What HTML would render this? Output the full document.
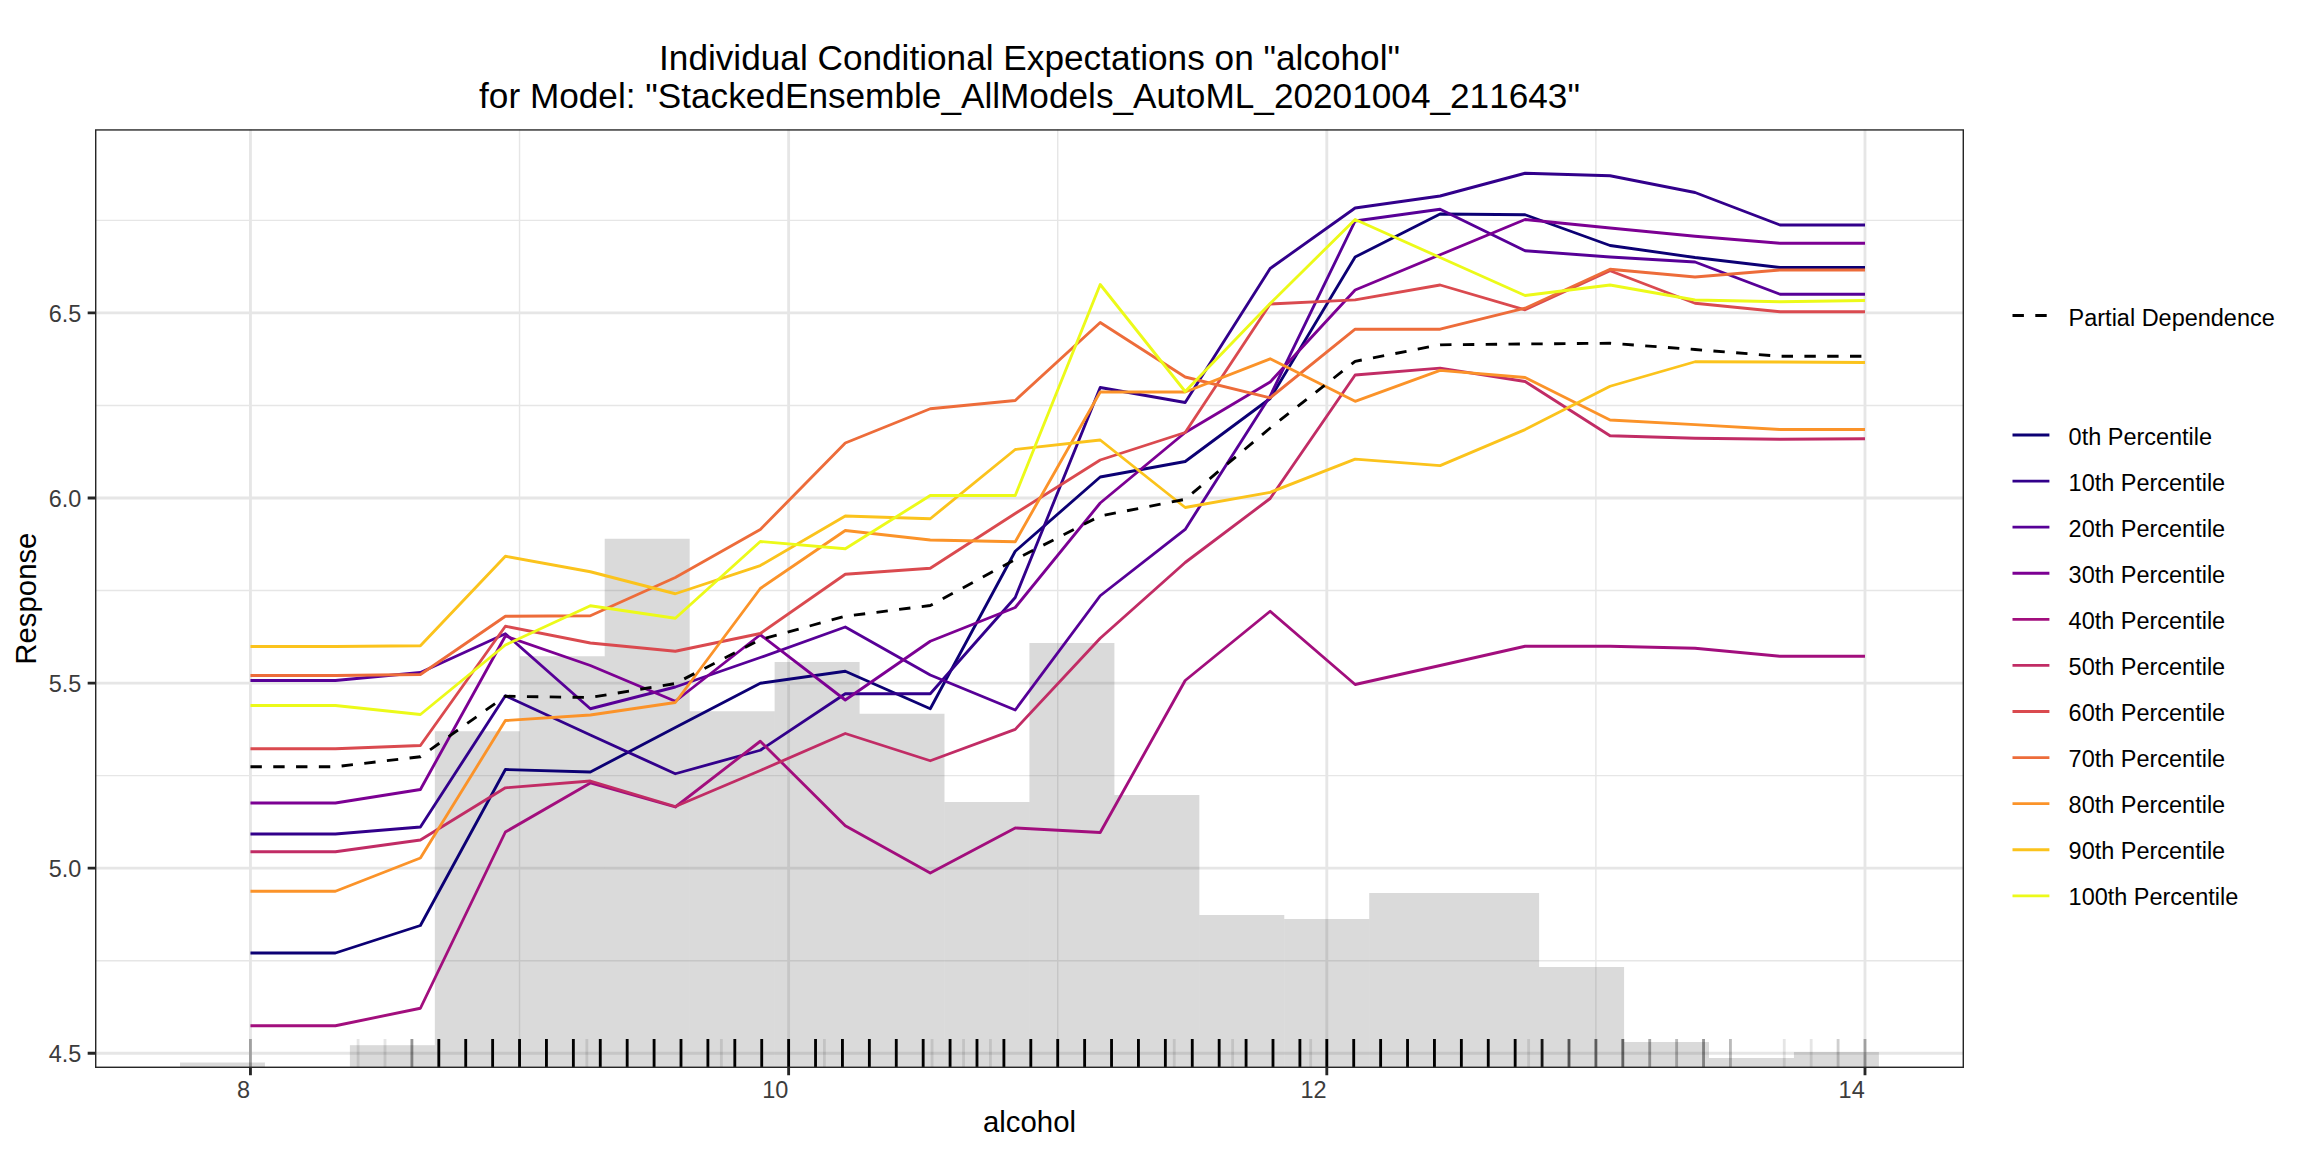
<!DOCTYPE html>
<html lang="en"><head><meta charset="utf-8"><title>Individual Conditional Expectations on "alcohol"</title>
<style>html,body{margin:0;padding:0;background:#fff}svg{display:block}text{font-family:"Liberation Sans",Arial,Helvetica,sans-serif;font-kerning:none}</style></head><body>
<svg width="2304" height="1152" viewBox="0 0 2304 1152">
<rect width="2304" height="1152" fill="#fff"/>
<defs><clipPath id="pc"><rect x="95.0" y="129.2" width="1869.0" height="938.8"/></clipPath></defs>
<g clip-path="url(#pc)">
<path d="M95.0 960.71H1964.0M95.0 775.62H1964.0M95.0 590.54H1964.0M95.0 405.45H1964.0M95.0 220.37H1964.0M519.54 129.2V1068.0M1057.72 129.2V1068.0M1595.90 129.2V1068.0" stroke="#E6E6E6" stroke-width="1.425" fill="none"/>
<path d="M95.0 1053.25H1964.0M95.0 868.16H1964.0M95.0 683.08H1964.0M95.0 498.00H1964.0M95.0 312.91H1964.0M250.45 129.2V1068.0M788.63 129.2V1068.0M1326.81 129.2V1068.0M1864.99 129.2V1068.0" stroke="#E6E6E6" stroke-width="2.85" fill="none"/>
<g fill="#474747" fill-opacity="0.2">
<rect x="180.00" y="1062.5" width="84.945" height="10.50"/>
<rect x="349.89" y="1045.2" width="84.945" height="27.80"/>
<rect x="434.83" y="731.25" width="84.945" height="341.75"/>
<rect x="519.78" y="656.25" width="84.945" height="416.75"/>
<rect x="604.72" y="538.75" width="84.945" height="534.25"/>
<rect x="689.67" y="711.25" width="84.945" height="361.75"/>
<rect x="774.62" y="662" width="84.945" height="411.00"/>
<rect x="859.56" y="713.75" width="84.945" height="359.25"/>
<rect x="944.50" y="802" width="84.945" height="271.00"/>
<rect x="1029.45" y="643" width="84.945" height="430.00"/>
<rect x="1114.39" y="795" width="84.945" height="278.00"/>
<rect x="1199.34" y="915" width="84.945" height="158.00"/>
<rect x="1284.28" y="919" width="84.945" height="154.00"/>
<rect x="1369.23" y="893" width="84.945" height="180.00"/>
<rect x="1454.17" y="893" width="84.945" height="180.00"/>
<rect x="1539.12" y="967" width="84.945" height="106.00"/>
<rect x="1624.06" y="1042" width="84.945" height="31.00"/>
<rect x="1709.01" y="1058" width="84.945" height="15.00"/>
<rect x="1793.95" y="1052" width="84.945" height="21.00"/>
</g>
<g stroke="#000" stroke-width="2.85">
<path d="M250.45 1039.00V1068.0" stroke-opacity="0.3"/>
<path d="M358.09 1039.00V1068.0" stroke-opacity="0.1"/>
<path d="M385.00 1039.00V1068.0" stroke-opacity="0.1"/>
<path d="M411.90 1039.00V1068.0" stroke-opacity="0.41"/>
<path d="M438.81 1039.00V1068.0" stroke-opacity="1.0"/>
<path d="M465.72 1039.00V1068.0" stroke-opacity="1.0"/>
<path d="M492.63 1039.00V1068.0" stroke-opacity="1.0"/>
<path d="M519.54 1039.00V1068.0" stroke-opacity="1.0"/>
<path d="M546.45 1039.00V1068.0" stroke-opacity="1.0"/>
<path d="M573.36 1039.00V1068.0" stroke-opacity="1.0"/>
<path d="M586.81 1039.00V1068.0" stroke-opacity="0.1"/>
<path d="M600.27 1039.00V1068.0" stroke-opacity="1.0"/>
<path d="M627.18 1039.00V1068.0" stroke-opacity="1.0"/>
<path d="M654.09 1039.00V1068.0" stroke-opacity="1.0"/>
<path d="M680.99 1039.00V1068.0" stroke-opacity="1.0"/>
<path d="M707.90 1039.00V1068.0" stroke-opacity="1.0"/>
<path d="M721.36 1039.00V1068.0" stroke-opacity="0.1"/>
<path d="M734.81 1039.00V1068.0" stroke-opacity="1.0"/>
<path d="M761.72 1039.00V1068.0" stroke-opacity="1.0"/>
<path d="M788.63 1039.00V1068.0" stroke-opacity="1.0"/>
<path d="M815.54 1039.00V1068.0" stroke-opacity="1.0"/>
<path d="M824.42 1039.00V1068.0" stroke-opacity="0.1"/>
<path d="M842.45 1039.00V1068.0" stroke-opacity="1.0"/>
<path d="M869.36 1039.00V1068.0" stroke-opacity="1.0"/>
<path d="M896.27 1039.00V1068.0" stroke-opacity="1.0"/>
<path d="M923.17 1039.00V1068.0" stroke-opacity="1.0"/>
<path d="M932.05 1039.00V1068.0" stroke-opacity="0.1"/>
<path d="M950.08 1039.00V1068.0" stroke-opacity="1.0"/>
<path d="M963.54 1039.00V1068.0" stroke-opacity="0.1"/>
<path d="M976.99 1039.00V1068.0" stroke-opacity="1.0"/>
<path d="M990.45 1039.00V1068.0" stroke-opacity="0.1"/>
<path d="M1003.90 1039.00V1068.0" stroke-opacity="1.0"/>
<path d="M1030.81 1039.00V1068.0" stroke-opacity="1.0"/>
<path d="M1057.72 1039.00V1068.0" stroke-opacity="1.0"/>
<path d="M1084.63 1039.00V1068.0" stroke-opacity="1.0"/>
<path d="M1111.54 1039.00V1068.0" stroke-opacity="1.0"/>
<path d="M1138.45 1039.00V1068.0" stroke-opacity="1.0"/>
<path d="M1165.36 1039.00V1068.0" stroke-opacity="1.0"/>
<path d="M1174.24 1039.00V1068.0" stroke-opacity="0.1"/>
<path d="M1192.26 1039.00V1068.0" stroke-opacity="1.0"/>
<path d="M1219.17 1039.00V1068.0" stroke-opacity="1.0"/>
<path d="M1232.63 1039.00V1068.0" stroke-opacity="0.1"/>
<path d="M1246.08 1039.00V1068.0" stroke-opacity="1.0"/>
<path d="M1272.99 1039.00V1068.0" stroke-opacity="1.0"/>
<path d="M1299.90 1039.00V1068.0" stroke-opacity="1.0"/>
<path d="M1310.66 1039.00V1068.0" stroke-opacity="0.1"/>
<path d="M1326.81 1039.00V1068.0" stroke-opacity="1.0"/>
<path d="M1353.72 1039.00V1068.0" stroke-opacity="1.0"/>
<path d="M1380.63 1039.00V1068.0" stroke-opacity="1.0"/>
<path d="M1407.54 1039.00V1068.0" stroke-opacity="1.0"/>
<path d="M1434.45 1039.00V1068.0" stroke-opacity="1.0"/>
<path d="M1461.36 1039.00V1068.0" stroke-opacity="1.0"/>
<path d="M1488.26 1039.00V1068.0" stroke-opacity="1.0"/>
<path d="M1515.17 1039.00V1068.0" stroke-opacity="1.0"/>
<path d="M1528.63 1039.00V1068.0" stroke-opacity="0.1"/>
<path d="M1542.08 1039.00V1068.0" stroke-opacity="0.9"/>
<path d="M1568.99 1039.00V1068.0" stroke-opacity="0.62"/>
<path d="M1595.90 1039.00V1068.0" stroke-opacity="0.55"/>
<path d="M1622.81 1039.00V1068.0" stroke-opacity="0.55"/>
<path d="M1649.72 1039.00V1068.0" stroke-opacity="0.35"/>
<path d="M1676.63 1039.00V1068.0" stroke-opacity="0.27"/>
<path d="M1703.54 1039.00V1068.0" stroke-opacity="0.41"/>
<path d="M1730.44 1039.00V1068.0" stroke-opacity="0.27"/>
<path d="M1784.26 1039.00V1068.0" stroke-opacity="0.1"/>
<path d="M1811.17 1039.00V1068.0" stroke-opacity="0.1"/>
<path d="M1838.08 1039.00V1068.0" stroke-opacity="0.19"/>
<path d="M1864.99 1039.00V1068.0" stroke-opacity="0.3"/>
</g>
<g fill="none" stroke-width="2.85" stroke-linejoin="round" stroke-linecap="butt">
<polyline points="250.45,953.00 335.43,953.00 420.40,925.50 505.38,769.50 590.35,772.00 675.33,727.50 760.30,683.25 845.28,671.25 930.26,708.75 1015.23,551.25 1100.21,477.00 1185.18,461.50 1270.16,398.50 1355.14,257.00 1440.11,214.00 1525.09,214.75 1610.06,245.50 1695.04,257.50 1780.01,267.50 1864.99,267.50" stroke="#0C0074"/>
<polyline points="250.45,834.00 335.43,834.00 420.40,827.00 505.38,695.75 590.35,735.00 675.33,773.75 760.30,750.25 845.28,693.75 930.26,693.75 1015.23,597.50 1100.21,387.50 1185.18,402.50 1270.16,268.50 1355.14,208.00 1440.11,196.00 1525.09,173.25 1610.06,175.75 1695.04,192.50 1780.01,225.00 1864.99,225.00" stroke="#32008B"/>
<polyline points="250.45,680.50 335.43,680.50 420.40,672.50 505.38,633.75 590.35,708.75 675.33,687.00 760.30,657.50 845.28,627.00 930.26,675.00 1015.23,710.00 1100.21,595.75 1185.18,529.40 1270.16,396.00 1355.14,221.00 1440.11,209.25 1525.09,250.75 1610.06,257.00 1695.04,262.00 1780.01,294.25 1864.99,294.25" stroke="#570097"/>
<polyline points="250.45,803.00 335.43,803.00 420.40,789.50 505.38,636.00 590.35,665.50 675.33,701.25 760.30,634.75 845.28,700.00 930.26,641.25 1015.23,607.50 1100.21,503.00 1185.18,432.50 1270.16,382.00 1355.14,290.00 1440.11,254.75 1525.09,219.50 1610.06,228.00 1695.04,236.25 1780.01,243.25 1864.99,243.25" stroke="#7C0093"/>
<polyline points="250.45,1025.75 335.43,1025.75 420.40,1008.25 505.38,832.00 590.35,783.00 675.33,807.00 760.30,741.25 845.28,825.75 930.26,873.00 1015.23,828.00 1100.21,832.50 1185.18,680.50 1270.16,611.25 1355.14,684.50 1440.11,665.50 1525.09,646.25 1610.06,646.25 1695.04,648.25 1780.01,656.25 1864.99,656.25" stroke="#A20E7D"/>
<polyline points="250.45,851.75 335.43,851.75 420.40,840.00 505.38,787.80 590.35,781.00 675.33,806.50 760.30,770.50 845.28,733.50 930.26,760.75 1015.23,729.40 1100.21,638.25 1185.18,562.50 1270.16,498.50 1355.14,375.00 1440.11,368.20 1525.09,381.50 1610.06,435.75 1695.04,438.25 1780.01,439.25 1864.99,438.75" stroke="#C12C65"/>
<polyline points="250.45,748.75 335.43,748.75 420.40,745.50 505.38,626.25 590.35,643.00 675.33,651.25 760.30,633.50 845.28,574.25 930.26,568.25 1015.23,513.50 1100.21,460.00 1185.18,432.50 1270.16,304.00 1355.14,299.80 1440.11,285.00 1525.09,309.80 1610.06,270.75 1695.04,303.25 1780.01,311.75 1864.99,311.75" stroke="#DA4A4F"/>
<polyline points="250.45,675.50 335.43,675.50 420.40,674.50 505.38,616.25 590.35,615.75 675.33,577.50 760.30,529.50 845.28,443.00 930.26,408.75 1015.23,400.50 1100.21,322.50 1185.18,377.00 1270.16,397.80 1355.14,329.20 1440.11,329.20 1525.09,308.20 1610.06,269.25 1695.04,277.00 1780.01,270.00 1864.99,270.00" stroke="#ED6C3A"/>
<polyline points="250.45,891.25 335.43,891.25 420.40,858.00 505.38,720.50 590.35,715.00 675.33,702.50 760.30,588.50 845.28,530.50 930.26,540.00 1015.23,541.75 1100.21,392.00 1185.18,392.00 1270.16,358.80 1355.14,401.30 1440.11,370.40 1525.09,377.50 1610.06,420.00 1695.04,424.70 1780.01,429.50 1864.99,429.50" stroke="#FB9329"/>
<polyline points="250.45,646.50 335.43,646.50 420.40,645.75 505.38,556.25 590.35,571.75 675.33,593.75 760.30,565.60 845.28,516.00 930.26,518.75 1015.23,449.50 1100.21,440.00 1185.18,507.50 1270.16,492.30 1355.14,459.20 1440.11,465.60 1525.09,429.60 1610.06,386.25 1695.04,361.75 1780.01,362.00 1864.99,362.50" stroke="#FBC31C"/>
<polyline points="250.45,705.50 335.43,705.50 420.40,714.50 505.38,645.00 590.35,605.75 675.33,618.25 760.30,541.50 845.28,548.75 930.26,495.50 1015.23,495.50 1100.21,284.50 1185.18,391.50 1270.16,303.50 1355.14,219.50 1440.11,257.50 1525.09,295.50 1610.06,285.00 1695.04,300.00 1780.01,301.75 1864.99,300.50" stroke="#ECFA19"/>
<polyline points="250.45,766.75 335.43,766.75 420.40,756.75 505.38,696.25 590.35,697.50 675.33,683.50 760.30,639.50 845.28,616.25 930.26,605.50 1015.23,559.50 1100.21,516.00 1185.18,499.30 1270.16,428.00 1355.14,361.30 1440.11,344.80 1525.09,344.00 1610.06,343.25 1695.04,349.50 1780.01,356.25 1864.99,356.25" stroke="#000" stroke-dasharray="11.4 11.4"/>
</g>
</g>
<rect x="95.0" y="129.2" width="1869.0" height="938.8" fill="none" stroke="#262626" stroke-width="2.85" clip-path="url(#pc)"/>
<path d="M87.67 1053.25H95.0M87.67 868.16H95.0M87.67 683.08H95.0M87.67 498.00H95.0M87.67 312.91H95.0M250.45 1068.0V1075.33M788.63 1068.0V1075.33M1326.81 1068.0V1075.33M1864.99 1068.0V1075.33" stroke="#262626" stroke-width="2.85" fill="none"/>
<g fill="#3C3C3C" font-size="23.47px">
<text x="81.4" y="1062.15" text-anchor="end">4.5</text>
<text x="81.4" y="877.06" text-anchor="end">5.0</text>
<text x="81.4" y="691.98" text-anchor="end">5.5</text>
<text x="81.4" y="506.89" text-anchor="end">6.0</text>
<text x="81.4" y="321.81" text-anchor="end">6.5</text>
<text x="250.15" y="1097.6" text-anchor="end">8</text>
<text x="788.33" y="1097.6" text-anchor="end">10</text>
<text x="1326.51" y="1097.6" text-anchor="end">12</text>
<text x="1864.69" y="1097.6" text-anchor="end">14</text>
</g>
<g fill="#000" font-size="29.33px">
<text x="1029.50" y="1132" text-anchor="middle">alcohol</text>
<text transform="translate(36,598.60) rotate(-90)" text-anchor="middle">Response</text>
</g>
<g fill="#000" font-size="35.2px" text-anchor="middle">
<text x="1029.50" y="69.5">Individual Conditional Expectations on "alcohol"</text>
<text x="1029.50" y="107.5">for Model: "StackedEnsemble_AllModels_AutoML_20201004_211643"</text>
</g>
<g fill="none" stroke-width="2.85">
<path d="M2012.5 315.5H2049.4" stroke="#000" stroke-dasharray="11.4 11.4"/>
<path d="M2012.5 435.00H2049.4" stroke="#0C0074"/>
<path d="M2012.5 481.08H2049.4" stroke="#32008B"/>
<path d="M2012.5 527.16H2049.4" stroke="#570097"/>
<path d="M2012.5 573.24H2049.4" stroke="#7C0093"/>
<path d="M2012.5 619.32H2049.4" stroke="#A20E7D"/>
<path d="M2012.5 665.40H2049.4" stroke="#C12C65"/>
<path d="M2012.5 711.48H2049.4" stroke="#DA4A4F"/>
<path d="M2012.5 757.56H2049.4" stroke="#ED6C3A"/>
<path d="M2012.5 803.64H2049.4" stroke="#FB9329"/>
<path d="M2012.5 849.72H2049.4" stroke="#FBC31C"/>
<path d="M2012.5 895.80H2049.4" stroke="#ECFA19"/>
</g>
<g fill="#000" font-size="23.47px">
<text x="2068.6" y="325.6">Partial Dependence</text>
<text x="2068.6" y="444.50">0th Percentile</text>
<text x="2068.6" y="490.58">10th Percentile</text>
<text x="2068.6" y="536.66">20th Percentile</text>
<text x="2068.6" y="582.74">30th Percentile</text>
<text x="2068.6" y="628.82">40th Percentile</text>
<text x="2068.6" y="674.90">50th Percentile</text>
<text x="2068.6" y="720.98">60th Percentile</text>
<text x="2068.6" y="767.06">70th Percentile</text>
<text x="2068.6" y="813.14">80th Percentile</text>
<text x="2068.6" y="859.22">90th Percentile</text>
<text x="2068.6" y="905.30">100th Percentile</text>
</g>
</svg></body></html>
